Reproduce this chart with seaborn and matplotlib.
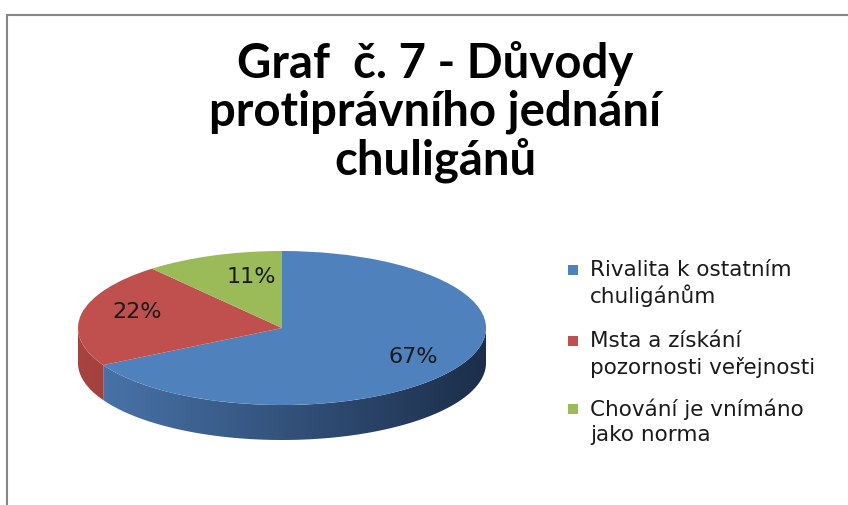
import numpy as np
import matplotlib
matplotlib.use("Agg")
import matplotlib.pyplot as plt
import seaborn as sns
from matplotlib.patches import Polygon, Rectangle
from matplotlib.lines import Line2D
from matplotlib.colors import LinearSegmentedColormap

# ---- data ----
categories = ["Rivalita k ostatním\nchuligánům",
              "Msta a získání\npozornosti veřejnosti",
              "Chování je vnímáno\njako norma"]
values = [67, 22, 11]
title = "Graf  č. 7 - Důvody\nprotiprávního jednání\nchuligánů"

sns.set_theme(style="white")
plt.rcParams['font.family'] = ['DejaVu Sans']
colors = sns.color_palette(["#4F81BD", "#C0504D", "#9BBB59"])
side_cols = [("#4b77ae", "#1c2e4a"), ("#a8433f", "#6a2724"), ("#88a64c", "#4d5e2a")]

W, H = 848, 505
fig = plt.figure(figsize=(W / 100, H / 100), dpi=100)
fig.patch.set_facecolor('white')

# pie geometry (pixels)
cx, cy, rx, ry, depth = 282, 328, 204, 77, 35
x0, x1 = 32, 532
ytop, ybot = 230, 460
ax = fig.add_axes([x0 / W, (H - ybot) / H, (x1 - x0) / W, (ybot - ytop) / H])
ax.set_facecolor('none')

wedges, texts, autotexts = ax.pie(
    values, colors=colors, startangle=90, counterclock=False,
    autopct='%1.0f%%', pctdistance=0.75,
    wedgeprops=dict(linewidth=0),
    textprops=dict(fontsize=16, color='#1a1a1a'))
for w in wedges:
    w.set_zorder(3)
for t in autotexts:
    t.set_zorder(5)
# Excel-like label placement adjustment for the small slices
autotexts[1].set_position((-0.71, 0.21))
autotexts[2].set_position((-0.15, 0.66))

D = depth / ry
# visible 3D side of each slice (front half of ellipse)
for w, (cl, cr) in zip(wedges, side_cols):
    t1, t2 = w.theta1, w.theta2
    for k in (-360, 0, 360):
        lo, hi = max(t1 + k, 180), min(t2 + k, 360)
        if hi > lo:
            th = np.radians(np.linspace(lo, hi, 120))
            top = np.column_stack([np.cos(th), np.sin(th)])
            bot = np.column_stack([np.cos(th[::-1]), np.sin(th[::-1]) - D])
            poly = Polygon(np.vstack([top, bot]), closed=True,
                           facecolor='none', edgecolor='none',
                           transform=ax.transData)
            ax.add_patch(poly)
            cmap = LinearSegmentedColormap.from_list('s', [cl, cr])
            grad = np.linspace(0, 1, 256)[None, :]
            im = ax.imshow(grad, cmap=cmap, aspect='auto',
                           extent=(-1, 1, -1 - D - 0.02, 0.02),
                           zorder=1, interpolation='bilinear')
            im.set_clip_path(poly)

ax.set_aspect('auto')
ax.set_xlim((x0 - cx) / rx, (x1 - cx) / rx)
ax.set_ylim((cy - ybot) / ry, (cy - ytop) / ry)
ax.axis('off')

# title
fig.text(435 / W, 1 - 112 / H, title, ha='center', va='center',
         fontsize=34, fontweight='bold',
         family=['Lato', 'DejaVu Sans'],
         linespacing=1.09, color='black')

# legend (manual, square beside first line)
leg_y = [270, 341, 409]
for lab, col, y in zip(categories, colors, leg_y):
    fig.add_artist(Rectangle(((568) / W, 1 - (y + 5) / H), 10 / W, 10 / H,
                             transform=fig.transFigure, facecolor=col,
                             edgecolor='none'))
    for j, line in enumerate(lab.split('\n')):
        fig.text(590 / W, 1 - (y + 26 * j) / H, line, ha='left',
                 va='center', fontsize=15.5, color='#1a1a1a')

# chart border
bc = '#868686'
fig.add_artist(Line2D([7 / W, 7 / W], [1 - 15 / H, 0], color=bc, lw=1.5,
                      transform=fig.transFigure))
fig.add_artist(Line2D([7 / W, 1], [1 - 15 / H, 1 - 15 / H], color=bc, lw=1.5,
                      transform=fig.transFigure))

fig.savefig("out.png", dpi=100)
